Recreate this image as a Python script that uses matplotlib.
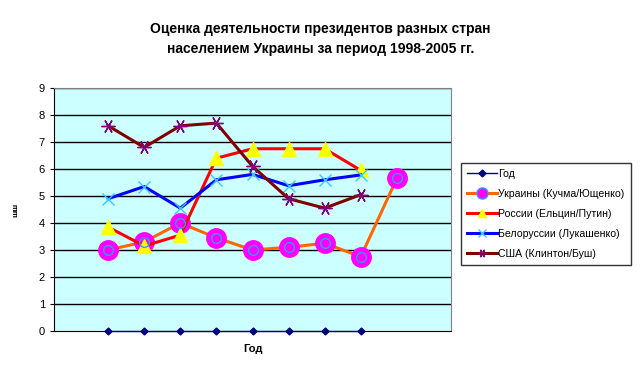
import matplotlib.pyplot as plt
from matplotlib.lines import Line2D

plt.rcParams['font.family'] = ['Liberation Sans', 'DejaVu Sans']

# positions 1..11 on the category axis, data sits in 2..10
x_years = [2, 3, 4, 5, 6, 7, 8, 9]
x_ukr = [2, 3, 4, 5, 6, 7, 8, 9, 10]

god = [0, 0, 0, 0, 0, 0, 0, 0]
ukraine = [3.0, 3.3, 4.0, 3.45, 3.0, 3.1, 3.25, 2.75, 5.65]
russia = [3.85, 3.15, 3.55, 6.4, 6.75, 6.75, 6.75, 5.95]
belarus = [4.9, 5.35, 4.55, 5.6, 5.8, 5.38, 5.6, 5.78]
usa = [7.6, 6.8, 7.6, 7.7, 6.1, 4.9, 4.55, 5.05]

labels = ['Год', 'Украины (Кучма/Ющенко)', 'России (Ельцин/Путин)',
          'Белоруссии (Лукашенко)', 'США (Клинтон/Буш)']

fig = plt.figure(figsize=(6.41, 3.80), dpi=100)
ax = fig.add_axes([54 / 641, 49 / 380, 397 / 641, 243 / 380])
ax.set_facecolor('#CCFFFF')

for y in range(1, 10):
    ax.axhline(y, color='black', lw=1, zorder=1)

ax.plot(x_years, god, color='#000080', lw=1, marker='D', ms=3.5, zorder=6, clip_on=False)
ax.plot(x_ukr, ukraine, color='#FF6600', lw=2.2, marker='o', ms=14,
        mfc='#FF00FF', mec='#FF00FF', zorder=4)
ax.plot(x_ukr, ukraine, ls='none', marker='o', ms=7, mfc='none',
        mec='#3399FF', mew=1, zorder=5)
ax.plot(x_years, russia, color='#FF0000', lw=2.2, marker='^', ms=10,
        mfc='#FFFF00', mec='#FFFF00', zorder=4)
ax.plot(x_years, belarus, color='#0000FF', lw=2.2, marker='x', ms=9,
        mec='#33CCFF', mew=1, zorder=4)
ax.plot(x_years, usa, color='#800000', lw=2.2, marker=(6, 2, 90), ms=10,
        mec='#800080', mew=1, zorder=4)

ax.set_xlim(0.5, 11.5)
ax.set_ylim(0, 9)
ax.set_yticks(range(0, 10))
ax.set_xticks([])
ax.tick_params(axis='y', labelsize=8, length=3)
ax.spines['left'].set_color('black')
ax.spines['bottom'].set_color('black')
ax.spines['top'].set_color('#808080')
ax.spines['right'].set_color('#808080')

ax.set_xlabel('Год', fontsize=8, fontweight='bold', labelpad=9)
ax.set_ylabel('шш', fontsize=6, fontweight='bold', labelpad=14)

fig.text(0.5, 1 - 39 / 380, 'Оценка деятельности президентов разных стран\nнаселением Украины за период 1998-2005 гг.',
         ha='center', va='center', fontsize=10, fontweight='bold', linespacing=1.5)

handles = [
    Line2D([], [], color='#000080', lw=1, marker='D', ms=3.5),
    Line2D([], [], color='#FF6600', lw=2.2, marker='o', ms=8, mfc='#FF00FF', mec='#3399FF'),
    Line2D([], [], color='#FF0000', lw=2.2, marker='^', ms=6, mfc='#FFFF00', mec='#FFFF00'),
    Line2D([], [], color='#0000FF', lw=2.2, marker='x', ms=6, mec='#33CCFF'),
    Line2D([], [], color='#800000', lw=2.2, marker=(6, 2, 90), ms=6, mec='#800080'),
]
leg = fig.legend(handles, labels, loc='upper left', bbox_to_anchor=(461 / 641, 1 - 163 / 380),
                 fontsize=7.6, frameon=True, fancybox=False, edgecolor='black',
                 handlelength=2.9, handletextpad=0.1, labelspacing=0.95, borderpad=0.55,
                 borderaxespad=0)
leg.get_frame().set_linewidth(1)

fig.savefig('out.png', dpi=100)
